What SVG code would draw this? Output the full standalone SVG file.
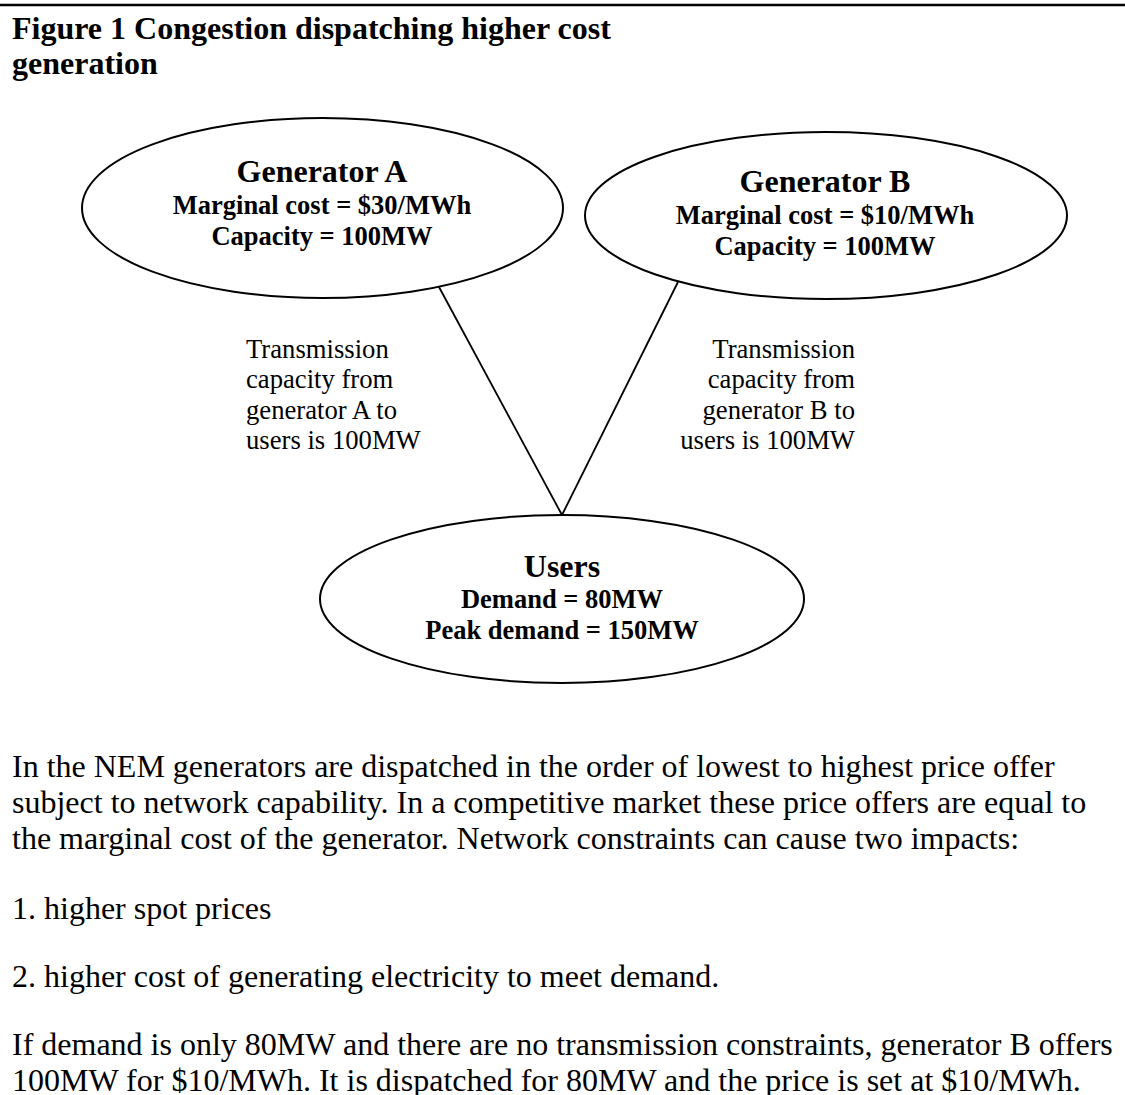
<svg xmlns="http://www.w3.org/2000/svg" width="1125" height="1095" viewBox="0 0 1125 1095">
<style>
text{font-family:"Liberation Serif","Times New Roman",serif;fill:#000}
.title{font-size:32px;font-weight:bold}
.head{font-size:32px;font-weight:bold;text-anchor:middle}
.sub{font-size:26.5px;font-weight:bold;text-anchor:middle}
.lbl{font-size:26.67px}
.body{font-size:32px}
.node{fill:#fff;stroke:#000;stroke-width:2}
.edge{stroke:#000;stroke-width:1.8;fill:none}
</style>
<rect width="1125" height="1095" fill="#fff"/>
<line x1="0" y1="5" x2="1125" y2="5" stroke="#000" stroke-width="2.5"/>
<text class="title" x="12" y="39">Figure 1 Congestion dispatching higher cost</text>
<text class="title" x="12" y="74">generation</text>
<g id="connectors">
<line class="edge" x1="439" y1="287" x2="562" y2="515"/>
<line class="edge" x1="678" y1="282" x2="562" y2="515"/>
</g>
<g id="generator-a">
<ellipse class="node" cx="322.5" cy="208" rx="240.5" ry="90"/>
<text class="head" x="322" y="182">Generator A</text>
<text class="sub" x="322" y="214">Marginal cost = $30/MWh</text>
<text class="sub" x="322" y="245">Capacity = 100MW</text>
</g>
<g id="generator-b">
<ellipse class="node" cx="826" cy="215.5" rx="241" ry="83.5"/>
<text class="head" x="825" y="192">Generator B</text>
<text class="sub" x="825" y="224">Marginal cost = $10/MWh</text>
<text class="sub" x="825" y="255">Capacity = 100MW</text>
</g>
<g id="users">
<ellipse class="node" cx="562" cy="599" rx="242" ry="84"/>
<text class="head" x="562" y="577">Users</text>
<text class="sub" x="562" y="608">Demand = 80MW</text>
<text class="sub" x="562" y="639">Peak demand = 150MW</text>
</g>
<g id="label-a">
<text class="lbl" x="246" y="358">Transmission</text>
<text class="lbl" x="246" y="388">capacity from</text>
<text class="lbl" x="246" y="419">generator A to</text>
<text class="lbl" x="246" y="449">users is 100MW</text>
</g>
<g id="label-b" text-anchor="end">
<text class="lbl" x="855" y="358">Transmission</text>
<text class="lbl" x="855" y="388">capacity from</text>
<text class="lbl" x="855" y="419">generator B to</text>
<text class="lbl" x="855" y="449">users is 100MW</text>
</g>
<g id="body">
<text class="body" x="12" y="777">In the NEM generators are dispatched in the order of lowest to highest price offer</text>
<text class="body" x="12" y="813">subject to network capability. In a competitive market these price offers are equal to</text>
<text class="body" x="12" y="849">the marginal cost of the generator. Network constraints can cause two impacts:</text>
<text class="body" x="12" y="919">1. higher spot prices</text>
<text class="body" x="12" y="987">2. higher cost of generating electricity to meet demand.</text>
<text class="body" x="12" y="1055">If demand is only 80MW and there are no transmission constraints, generator B offers</text>
<text class="body" x="12" y="1091">100MW for $10/MWh. It is dispatched for 80MW and the price is set at $10/MWh.</text>
</g>
</svg>
